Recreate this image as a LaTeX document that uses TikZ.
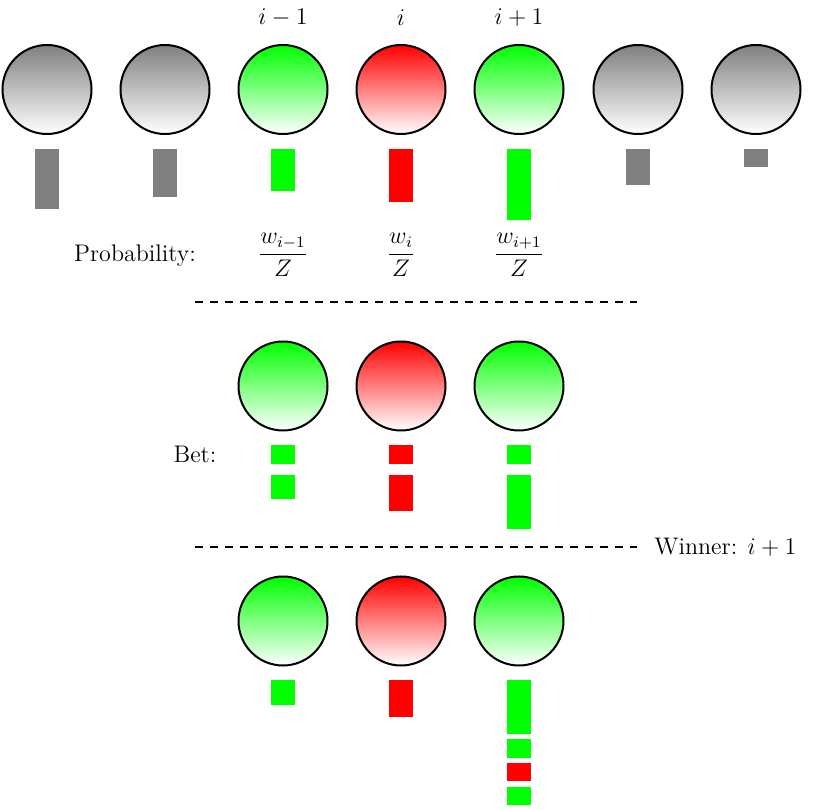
\documentclass[tikz,border=0pt]{standalone}
\begin{document}
\begin{tikzpicture}[x=0.5pt,y=0.5pt,
  ball/.style={circle,draw=black,line width=1pt,minimum size=44.5pt,inner sep=0pt},
  greyball/.style={ball,top color=gray,bottom color=white},
  greenball/.style={ball,top color=green,bottom color=white},
  redball/.style={ball,top color=red,bottom color=white},
  txt/.style={font=\fontsize{12}{14}\selectfont,inner sep=0pt},
  greybar/.style={fill=gray},
  greenbar/.style={fill=green},
  redbar/.style={fill=red},
  sep/.style={line width=0.9pt,dash pattern=on 4pt off 3.5pt}]
\useasboundingbox (0,0) rectangle (819,809);
% top row
\node[greyball]  (a1) at (47,719.5) {};
\node[greyball]  (a2) at (165,719.5) {};
\node[greenball] (a3) at (283,719.5) {};
\node[redball]   (a4) at (401,719.5) {};
\node[greenball] (a5) at (519,719.5) {};
\node[greyball]  (a6) at (638,719.5) {};
\node[greyball]  (a7) at (756,719.5) {};
\node[txt] (l3) at (283,791) {$i-1$};
\node[txt] (l4) at (401,791) {$i$};
\node[txt] (l5) at (519,791) {$i+1$};
\fill[greybar]  (35,660) rectangle (59,600);
\fill[greybar]  (153,660) rectangle (177,612);
\fill[greenbar] (271,660) rectangle (295,618);
\fill[redbar]   (389,660) rectangle (413,607);
\fill[greenbar] (507,660) rectangle (531,589);
\fill[greybar]  (626,660) rectangle (650,624);
\fill[greybar]  (744,660) rectangle (768,642);
\node[txt,anchor=base] (prob) at (135,547) {Probability:};
\node[txt] (p3) at (283,554) {$\displaystyle\frac{w_{i-1}}{Z}$};
\node[txt] (p4) at (401,554) {$\displaystyle\frac{w_{i}}{Z}$};
\node[txt] (p5) at (519,554) {$\displaystyle\frac{w_{i+1}}{Z}$};
\coordinate (d1a) at (195,507);
\coordinate (d1b) at (637,507);
\draw[sep] (d1a) -- (d1b);
% middle row
\node[greenball] (b3) at (283,423) {};
\node[redball]   (b4) at (401,423) {};
\node[greenball] (b5) at (519,423) {};
\node[txt,anchor=base] (bet) at (195,346) {Bet:};
\fill[greenbar] (271,364) rectangle (295,345);
\fill[redbar]   (389,364) rectangle (413,345);
\fill[greenbar] (507,364) rectangle (531,345);
\fill[greenbar] (271,334) rectangle (295,310);
\fill[redbar]   (389,334) rectangle (413,298);
\fill[greenbar] (507,334) rectangle (531,280);
\coordinate (d2a) at (195,262);
\coordinate (d2b) at (637,262);
\draw[sep] (d2a) -- (d2b);
\node[txt,anchor=base west] (win) at (654,254) {Winner: $i+1$};
% bottom row
\node[greenball] (c3) at (283,188) {};
\node[redball]   (c4) at (401,188) {};
\node[greenball] (c5) at (519,188) {};
\fill[greenbar] (271,129) rectangle (295,104);
\fill[redbar]   (389,129) rectangle (413,92);
\fill[greenbar] (507,129) rectangle (531,75);
\fill[greenbar] (507,70) rectangle (531,51);
\fill[redbar]   (507,46) rectangle (531,28);
\fill[greenbar] (507,22) rectangle (531,4);
\end{tikzpicture}
\end{document}
